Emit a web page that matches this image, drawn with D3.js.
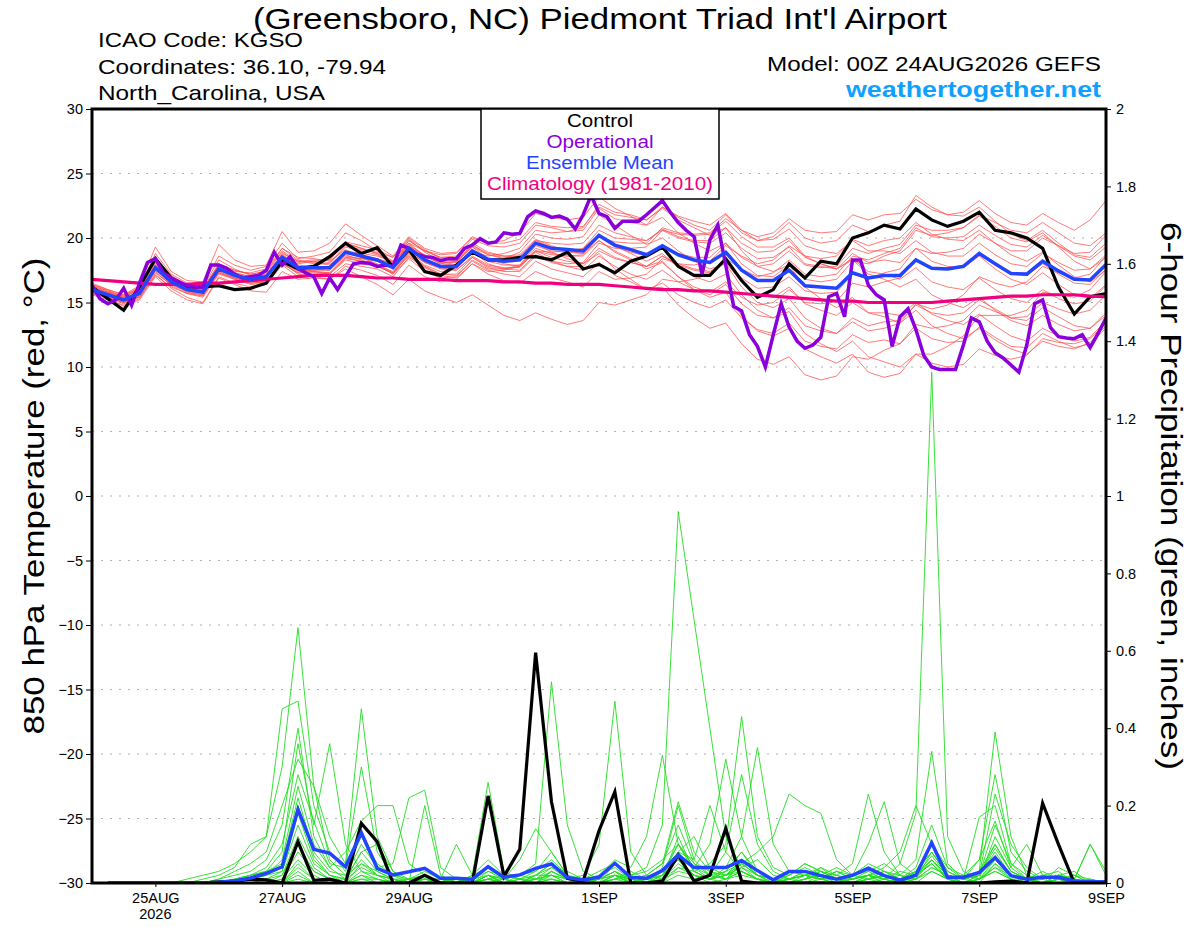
<!DOCTYPE html>
<html>
<head>
<meta charset="utf-8">
<script src="https://cdnjs.cloudflare.com/ajax/libs/d3/7.8.5/d3.min.js"></script>
<style>
body { margin: 0; background: #fff; }
text { font-family: "Liberation Sans", Arial, Helvetica, sans-serif; }
</style>
</head>
<body>
<script>
/* global d3 */
//Chart size
var width = 1200;
var height = 927;

//Forecast hours (6-hourly ensemble, 3-hourly operational)
var hours = d3.range(0, 385, 6);
var precipHours = d3.range(6, 385, 6);
var operHours = d3.range(0, 385, 3);

//X axis labels
var xTickHours = [24, 72, 120, 192, 240, 288, 336, 384];
var xTickLabels = ["25AUG", "27AUG", "29AUG", "1SEP", "3SEP", "5SEP", "7SEP", "9SEP"];
var yearLabel = "2026";

var tempTicks = [-30, -25, -20, -15, -10, -5, 0, 5, 10, 15, 20, 25, 30];
var precipTicks = [0, 0.2, 0.4, 0.6, 0.8, 1, 1.2, 1.4, 1.6, 1.8, 2];

//850 hPa temperature, control run
var controlTemp = [
    16.2,15.3,14.4,16.2,18.4,16.9,16.2,16.2,16.3,16.0,16.1,16.5,18.2,
    17.6,17.8,18.55,19.6,18.8,19.25,17.75,19.1,17.4,17.1,17.9,18.9,18.3,
    18.3,18.5,18.55,18.3,18.9,17.6,17.95,17.3,18.2,18.6,19.3,17.8,17.1,
    17.1,18.4,16.7,15.4,16.0,18.0,16.9,18.2,18.0,20.0,20.4,21.0,20.7,22.25,
    21.4,20.9,21.3,22.0,20.6,20.4,20.0,19.2,16.2,14.1,15.45,15.7
];

//ensemble mean
var meanTemp = [
    16.0,15.6,15.2,15.7,17.7,16.6,16.0,15.8,17.6,17.1,16.8,17.0,18.5,
    17.7,17.7,17.7,18.9,18.6,18.3,17.7,19.2,18.3,17.8,17.8,19.0,18.35,
    18.2,18.3,19.6,19.2,19.1,19.0,20.2,19.45,19.1,18.7,19.4,18.7,18.3,
    18.1,18.9,17.5,16.7,16.7,17.5,16.3,16.2,16.1,17.3,16.9,17.1,17.1,18.3,
    17.65,17.6,17.8,18.8,18.0,17.25,17.2,18.2,17.45,16.8,16.75,17.95
];

//climatology 1981-2010
var climTemp = [
    16.8,16.7,16.6,16.5,16.4,16.4,16.4,16.5,16.5,16.6,16.7,16.8,16.9,
    17.0,17.1,17.1,17.1,17.0,16.9,16.9,16.8,16.8,16.8,16.7,16.7,16.7,
    16.6,16.6,16.5,16.5,16.4,16.4,16.4,16.3,16.2,16.1,16.0,16.0,15.9,
    15.9,15.8,15.7,15.6,15.5,15.4,15.3,15.2,15.1,15.1,15.0,15.0,15.0,15.0,
    15.0,15.1,15.2,15.3,15.4,15.5,15.5,15.6,15.6,15.6,15.5,15.45
];

//operational run, 3-hourly
var operTemp = [
    16.3,15.3,14.9,15.2,16.1,14.8,16.5,18.1,18.4,17.3,16.9,16.6,16.3,16.2,16.2,17.9,
    17.9,17.65,17.2,16.9,17.0,17.1,17.5,18.9,17.9,18.55,17.65,17.3,17.0,15.7,16.9,16.0,
    17.0,18.0,18.1,18.05,17.8,17.9,17.8,19.45,19.2,18.75,18.55,18.5,18.25,18.4,18.4,19.2,
    19.45,19.95,19.6,19.7,20.4,20.3,20.35,21.65,22.1,21.9,21.6,21.7,21.45,20.7,21.8,23.3,
    21.9,21.65,20.75,21.3,21.3,21.3,21.8,22.35,22.9,22.0,21.2,20.6,20.1,17.2,19.85,21.0,
    17.9,14.7,14.35,12.5,11.6,10.0,12.5,14.9,13.1,12.0,11.45,11.7,12.3,15.45,15.7,13.9,
    18.3,18.3,16.35,15.6,15.2,11.6,13.9,14.5,12.9,10.9,10.0,9.8,9.8,9.8,11.7,13.8,
    13.5,12.0,11.1,10.7,10.15,9.6,11.7,14.9,15.2,13.05,12.35,12.25,12.2,12.5,11.5,12.6,
    13.8
];

//ensemble members
var memberTemps = [
    [16.2,15.8,15.5,16.0,18.2,17.0,16.4,16.1,18.0,17.5,17.2,17.4,19.2,
     18.3,18.0,18.4,19.6,19.2,18.8,18.1,19.8,19.0,18.5,18.6,19.9,19.4,
     19.3,19.6,21.0,20.8,20.5,20.6,22.3,21.5,21.2,21.0,22.4,21.6,21.0,
     20.6,21.8,20.4,19.8,20.1,21.2,20.0,19.6,19.8,21.0,20.5,21.0,21.3,23.3,
     22.4,21.8,22.0,22.9,21.9,21.2,21.0,21.9,21.2,20.6,21.4,22.9],
    [15.8,15.4,14.9,15.5,17.4,16.3,15.7,15.4,17.2,16.8,16.5,16.6,18.0,
     17.3,17.4,17.3,18.5,18.2,17.8,17.3,18.6,17.8,17.2,17.1,18.2,17.5,
     17.2,17.0,18.2,17.6,17.3,17.0,18.1,17.1,16.6,16.0,16.5,15.6,15.0,
     14.6,15.2,13.8,12.9,12.6,13.4,12.0,11.6,11.4,12.5,11.9,12.1,11.8,13.0,
     12.2,11.9,12.0,13.1,12.3,11.6,11.5,12.6,12.0,11.5,11.8,13.0],
    [16.4,15.9,15.4,16.1,18.8,17.2,16.5,16.4,18.6,17.9,17.5,17.8,19.6,
     18.4,18.6,18.9,20.4,19.8,19.0,18.2,19.6,18.6,18.0,18.2,19.5,18.7,
     18.4,18.9,20.3,20.0,19.9,20.1,21.8,21.0,20.2,19.5,20.0,19.0,18.2,
     17.6,18.0,16.2,15.0,14.6,15.3,13.8,13.0,12.6,13.5,12.8,13.0,13.4,14.9,
     14.5,14.8,15.6,17.0,16.5,16.2,16.6,17.8,17.3,16.9,17.2,18.6],
    [15.6,15.2,14.8,15.3,17.2,16.1,15.4,15.0,17.0,16.5,16.2,16.4,17.9,
     17.0,17.1,17.0,18.0,17.8,17.6,17.0,18.5,17.7,17.1,16.9,18.0,17.2,
     16.7,16.5,17.4,16.9,16.6,16.2,17.4,16.8,16.9,17.2,18.4,18.0,17.9,
     18.2,19.4,18.6,18.0,18.3,19.4,18.6,18.4,18.6,19.9,19.4,19.8,20.0,21.2,
     20.3,19.9,19.8,20.6,19.6,18.7,18.2,18.9,17.9,17.0,16.6,17.5],
    [16.1,15.7,15.3,15.9,18.0,16.8,16.2,15.9,17.9,17.3,17.0,17.1,18.6,
     17.9,17.8,17.6,18.7,18.3,17.9,17.2,18.8,17.9,17.4,17.6,18.9,18.6,
     18.8,19.2,20.6,20.4,20.5,20.8,22.6,22.0,21.8,21.4,22.3,21.4,20.8,
     20.2,20.8,19.0,17.8,17.4,17.9,16.2,15.3,14.6,15.4,14.2,13.9,13.4,14.4,
     13.2,12.6,12.2,13.0,12.1,11.4,11.0,12.0,11.6,11.4,11.9,13.2],
    [15.9,15.5,15.0,15.6,17.6,16.5,15.8,15.6,17.3,16.9,16.6,16.9,18.4,
     17.8,17.9,18.1,19.4,19.1,18.9,18.5,20.0,19.1,18.4,18.2,19.3,18.4,
     18.0,17.8,18.9,18.2,17.8,17.5,18.6,17.8,17.2,16.8,17.5,16.6,16.0,
     15.6,16.4,14.9,14.0,13.8,14.6,13.2,12.8,12.6,13.8,13.2,13.5,13.6,14.8,
     14.2,14.0,14.2,15.2,14.5,13.8,13.6,14.6,13.9,13.2,13.0,14.0],
    [16.5,16.0,15.6,16.3,19.3,17.4,16.7,16.6,19.5,18.3,17.8,17.9,20.5,
     18.9,19.0,19.6,21.1,20.2,19.4,18.6,20.1,19.2,18.8,18.9,20.0,19.6,
     19.8,20.4,21.9,21.6,21.4,21.6,23.2,22.3,21.7,21.0,21.6,20.4,19.6,
     19.0,19.6,18.0,17.1,17.0,17.9,16.8,16.6,16.8,18.2,18.0,18.6,19.0,20.6,
     20.2,20.4,20.8,21.8,21.2,20.6,20.4,21.2,20.4,19.6,19.4,20.4],
    [15.7,15.3,14.7,15.2,17.0,15.9,15.2,14.9,16.9,16.4,15.9,15.8,17.4,
     16.8,16.9,16.8,17.8,17.5,17.1,16.4,17.9,17.0,16.6,16.8,18.0,17.4,
     17.5,17.8,19.0,18.9,19.0,19.2,20.6,20.0,19.9,19.8,20.7,20.1,19.8,
     19.8,20.8,19.6,18.9,19.0,19.8,18.5,18.0,17.6,18.3,17.2,16.8,16.2,16.8,
     15.6,15.0,14.6,15.4,14.4,13.6,13.2,14.0,13.3,12.8,13.0,14.2],
    [16.0,15.6,15.1,15.4,17.3,16.4,15.9,15.7,17.4,16.9,16.6,16.7,18.1,
     17.2,17.0,16.8,17.6,17.0,16.4,15.6,16.8,15.9,15.4,15.0,15.6,14.8,
     14.0,13.6,14.2,13.7,13.3,13.6,15.0,14.8,15.2,15.6,16.8,16.6,16.8,
     17.2,18.4,17.6,17.0,17.3,18.3,17.2,17.0,17.2,18.6,18.3,18.8,19.2,20.8,
     20.1,20.0,20.1,21.0,20.2,19.5,19.3,20.2,19.4,18.6,18.3,19.3],
    [16.3,15.9,15.5,16.2,18.5,17.1,16.3,16.2,18.3,17.6,17.1,17.3,18.9,
     18.1,18.2,18.0,19.3,19.0,18.7,18.0,19.5,18.6,18.0,17.9,19.1,18.2,
     17.9,17.9,19.0,18.5,18.2,18.0,19.2,18.5,18.1,17.8,18.6,17.9,17.5,
     17.3,18.1,16.6,15.6,15.4,16.2,14.9,14.4,14.0,15.0,14.2,14.2,14.0,15.0,
     14.1,13.6,13.3,14.1,13.2,12.4,12.0,13.0,12.4,12.0,12.3,13.6],
    [15.8,15.5,15.2,15.8,17.9,16.7,16.1,15.9,17.7,17.2,16.9,17.2,18.7,
     17.6,17.4,17.2,18.3,18.0,17.8,17.3,18.9,18.1,17.7,17.7,18.9,18.2,
     18.2,18.4,19.8,19.6,19.5,19.6,21.0,20.4,20.1,19.8,20.6,20.0,19.7,
     19.6,20.4,19.2,18.4,18.5,19.3,18.0,17.8,17.6,18.8,18.1,18.3,18.1,19.2,
     18.2,17.8,17.7,18.6,17.6,16.8,16.4,17.3,16.4,15.6,15.3,16.4],
    [16.2,15.7,15.3,15.8,17.8,16.8,16.3,16.1,17.9,17.4,17.3,17.6,19.2,
     18.5,18.4,18.2,19.1,18.5,17.9,17.2,18.4,17.4,16.9,17.0,18.3,17.6,
     17.6,17.9,19.4,19.0,18.9,18.8,20.2,19.4,18.8,18.2,18.8,17.7,17.0,
     16.6,17.2,15.6,14.4,13.8,14.3,12.6,11.8,11.2,12.0,10.8,10.4,10.0,11.0,
     10.3,10.0,10.2,11.4,10.9,10.6,10.9,12.2,11.9,11.8,12.2,13.4],
    [15.9,15.6,15.3,15.9,17.6,16.5,15.9,15.6,17.5,17.0,16.6,16.7,18.2,
     17.5,17.6,17.5,18.6,18.4,18.2,17.7,19.3,18.6,18.1,18.1,19.3,18.7,
     18.5,18.6,19.8,19.3,19.1,19.0,20.1,19.3,18.9,18.6,19.4,18.8,18.5,
     18.5,19.6,18.5,17.8,18.0,19.0,17.9,17.7,17.8,19.2,18.8,19.2,19.5,21.0,
     20.6,20.6,20.8,21.7,20.9,20.0,19.7,20.4,19.3,18.2,17.6,18.5],
    [16.1,15.8,15.4,15.6,17.5,16.4,15.8,15.5,17.4,16.9,16.5,16.6,18.1,
     17.4,17.5,17.7,19.0,18.8,18.6,18.2,19.8,19.0,18.5,18.4,19.6,18.9,
     18.6,18.5,19.6,18.9,18.4,18.0,18.8,17.6,16.8,16.0,16.2,14.8,13.8,
     13.0,13.4,11.8,10.6,10.2,10.8,9.4,9.0,9.3,10.8,10.6,11.3,11.8,13.3,
     13.0,13.2,13.6,14.8,14.3,13.8,13.9,15.0,14.5,14.1,14.4,15.6],
    [15.7,15.4,15.0,15.5,17.5,16.6,16.1,16.0,17.9,17.5,17.2,17.4,19.0,
     18.2,18.1,17.9,18.9,18.5,18.0,17.3,18.7,17.8,17.2,17.2,18.5,17.8,
     17.6,17.8,19.2,18.8,18.6,18.6,19.8,19.0,18.4,17.8,18.2,17.0,16.0,
     15.4,15.8,14.0,12.8,12.4,13.0,11.4,10.8,10.3,11.0,9.6,9.2,9.5,11.0,
     11.0,11.6,12.4,14.0,14.0,14.0,14.4,15.8,15.6,15.4,16.0,17.4],
    [16.3,15.8,15.2,15.7,17.9,16.8,16.0,15.7,17.6,17.0,16.7,16.9,18.4,
     17.5,17.4,17.3,18.5,18.4,18.4,18.0,19.6,19.0,18.7,18.8,20.1,19.6,
     19.6,19.9,21.2,20.9,20.8,20.9,22.4,21.8,21.6,21.4,22.4,21.7,21.3,
     21.0,21.9,20.6,19.8,19.9,20.7,19.4,19.0,18.8,19.8,19.0,19.0,18.8,19.8,
     18.9,18.6,18.6,19.6,18.7,18.0,17.8,18.8,18.1,17.5,17.6,18.7],
    [15.9,15.5,15.1,15.8,17.8,16.7,16.1,16.0,17.8,17.3,17.0,17.1,18.7,
     18.0,18.2,18.3,19.6,19.2,18.8,18.1,19.4,18.4,17.7,17.5,18.5,17.7,
     17.4,17.4,18.6,18.1,17.8,17.8,19.0,18.4,18.1,17.8,18.6,18.0,17.6,
     17.4,18.2,16.9,16.1,16.2,17.0,15.9,15.7,15.8,17.2,16.8,17.3,17.6,19.2,
     18.8,18.9,19.2,20.3,19.6,19.0,19.0,20.0,19.4,18.8,18.9,20.2],
    [16.0,15.7,15.4,16.0,17.7,16.6,16.2,16.0,17.8,17.2,16.9,17.0,18.5,
     17.6,17.5,17.5,18.8,18.6,18.4,17.9,19.4,18.7,18.2,18.2,19.4,18.8,
     18.6,18.7,19.9,19.4,19.0,18.8,19.8,18.9,18.3,17.6,18.1,17.0,16.2,
     15.8,16.6,15.4,14.8,15.0,16.0,15.0,14.9,15.1,16.5,16.2,16.6,16.9,18.3,
     17.7,17.7,17.9,18.9,18.1,17.3,17.1,18.0,17.2,16.5,16.4,17.6],
    [16.4,16.0,15.6,16.1,18.1,16.9,16.2,15.9,17.6,17.0,16.8,17.1,18.8,
     18.2,18.3,18.3,19.7,19.4,19.1,18.5,19.9,18.9,18.2,17.9,19.0,18.0,
     17.6,17.5,18.7,18.2,18.0,18.1,19.6,19.2,19.2,19.3,20.6,20.3,20.2,
     20.3,21.3,20.1,19.3,19.3,20.0,18.6,18.0,17.6,18.4,17.4,17.2,16.8,17.7,
     16.6,16.2,16.0,16.9,16.0,15.3,15.0,16.0,15.3,14.9,15.1,16.3],
    [15.8,15.4,15.0,15.4,17.1,16.2,15.7,15.5,17.3,16.8,16.4,16.5,18.0,
     17.3,17.3,17.2,18.4,18.2,17.9,17.4,18.9,18.1,17.6,17.5,18.6,17.9,
     17.7,17.7,19.0,18.7,18.6,18.7,20.1,19.7,19.6,19.6,20.8,20.4,20.3,
     20.4,21.5,20.6,20.1,20.4,21.5,20.6,20.4,20.5,21.8,21.4,21.8,21.9,23.0,
     22.2,21.8,21.7,22.4,21.3,20.3,19.8,20.6,19.6,18.7,18.5,19.6]
];

//6-hour precipitation, control and ensemble mean
var controlPrecip = [
    0,0,0,0,0,0,0,0.003,
    0.005,0.01,0.008,0,0.107,0.007,0.01,0,
    0.154,0.107,0,0,0.02,0,0,0,
    0.225,0.017,0.087,0.595,0.21,0.012,0.005,0.135,
    0.236,0,0,0.005,0.072,0.005,0.02,0.141,
    0.005,0,0,0,0,0,0,0,
    0,0,0,0,0,0,0,0,
    0.003,0.005,0,0.206,0.1,0,0,0
];

var meanPrecip = [
    0,0,0,0,0,0,0,0.002,
    0.005,0.013,0.025,0.042,0.19,0.087,0.077,0.042,
    0.13,0.038,0.021,0.029,0.038,0.012,0.012,0.01,
    0.042,0.015,0.021,0.038,0.049,0.014,0.008,0.015,
    0.051,0.015,0.012,0.032,0.072,0.04,0.04,0.04,
    0.058,0.032,0.008,0.03,0.03,0.019,0.01,0.02,
    0.038,0.019,0.007,0.02,0.104,0.015,0.015,0.027,
    0.066,0.019,0.01,0.015,0.015,0.005,0.003,0.003
];

//ensemble member precipitation
var memberPrecips = [
    [0,0,0,0,0,0.01,0.02,0.03,0.05,0.08,0.12,0.30,0.66,0.25,0.06,0.02,
     0.05,0.03,0.01,0,0,0,0.01,0,0.03,0.01,0,0.02,0.05,0.01,0,0,
     0.02,0.01,0,0.03,0.06,0.02,0,0.01,0.03,0.01,0,0,0.02,0.04,0.01,0,
     0,0.01,0,0.02,0.05,0.01,0,0.01,0.03,0.01,0,0,0.01,0,0,0],
    [0,0,0,0,0,0,0.01,0.02,0.04,0.1,0.12,0.45,0.47,0.2,0.08,0.03,
     0.12,0.05,0.02,0.01,0,0.01,0,0,0.01,0,0.02,0.03,0.08,0.02,0,0.01,
     0.03,0,0.01,0.02,0.1,0.04,0.01,0,0.06,0.03,0.01,0,0,0.01,0.03,0.01,
     0.02,0,0,0.01,0.08,0.02,0,0.01,0.12,0.04,0.01,0,0.02,0.01,0,0],
    [0,0,0,0,0,0,0,0.01,0.02,0.03,0.06,0.15,0.40,0.12,0.04,0.01,
     0.08,0.1,0.03,0,0.01,0,0,0.02,0.06,0.02,0.01,0,0.03,0.01,0,0,
     0.01,0.03,0.01,0,0.04,0.02,0.01,0.03,0.08,0.02,0,0.01,0.03,0.01,0.02,0.05,
     0.23,0.08,0.02,0.01,0.06,0.02,0.01,0.02,0.15,0.05,0.01,0.02,0.03,0,0,0],
    [0,0,0,0,0,0,0,0,0.01,0.02,0.03,0.08,0.36,0.15,0.36,0.1,
     0.03,0.02,0.01,0,0,0,0.01,0,0,0.01,0.02,0.01,0.04,0.03,0.01,0,
     0.02,0.01,0,0.04,0.2,0.06,0.02,0.01,0.05,0.02,0.01,0,0.01,0.03,0.02,0,
     0.01,0.03,0.02,0,0.03,0.01,0,0.02,0.09,0.03,0.01,0,0.04,0.02,0,0],
    [0,0,0,0,0,0,0,0.01,0.03,0.05,0.08,0.2,0.32,0.25,0.12,0.05,
     0.45,0.12,0.03,0.01,0.02,0,0,0,0.02,0,0.01,0.03,0.06,0.02,0.01,0,
     0.05,0.02,0,0.01,0.12,0.03,0.01,0.02,0.04,0.06,0.02,0.01,0,0.02,0.04,0.02,
     0.01,0,0.01,0.03,0.1,0.04,0.01,0,0.05,0.02,0,0.01,0.02,0,0.01,0],
    [0,0,0,0,0,0,0,0,0.01,0.02,0.04,0.1,0.28,0.16,0.05,0.04,
     0.30,0.08,0.02,0,0.01,0.01,0,0.01,0.04,0.01,0,0.02,0.05,0.01,0.01,0.02,
     0.04,0.01,0.02,0.05,0.15,0.05,0.03,0.01,0.02,0.01,0,0.02,0.05,0.03,0.01,0.02,
     0.1,0.21,0.05,0.02,0.07,0.02,0,0.01,0.06,0.02,0.01,0,0.01,0.02,0,0],
    [0,0,0,0,0,0,0,0,0,0.01,0.02,0.06,0.25,0.1,0.04,0.08,
     0.16,0.2,0.2,0.05,0.02,0,0.01,0,0.01,0.02,0.01,0,0.03,0.01,0,0.01,
     0.02,0,0.01,0.02,0.08,0.12,0.04,0.02,0.03,0.01,0,0.01,0.02,0.01,0.03,0.01,
     0.02,0.04,0.08,0.2,0.1,0.03,0.01,0.02,0.1,0.03,0.01,0,0.01,0,0.01,0],
    [0,0,0,0,0,0,0,0,0.01,0.02,0.03,0.05,0.22,0.08,0.03,0.02,
     0.1,0.04,0.05,0.22,0.24,0.04,0.01,0,0.02,0.01,0,0.01,0.02,0,0.01,0,
     0.01,0.02,0.03,0.06,0.1,0.04,0.02,0.01,0.03,0.01,0.01,0,0.01,0.04,0.02,0.01,
     0.02,0.01,0.05,0.18,1.32,0.12,0.03,0.01,0.04,0.01,0,0,0.01,0.01,0,0],
    [0,0,0,0,0,0,0,0,0,0.01,0.02,0.04,0.2,0.07,0.02,0.01,
     0.08,0.03,0.01,0,0.2,0.02,0,0.02,0.26,0.03,0.01,0,0.02,0.01,0,0,
     0.02,0.01,0,0.02,0.08,0.03,0.01,0.02,0.05,0.02,0.01,0.01,0.03,0.02,0,0.01,
     0.03,0.01,0.02,0.06,0.34,0.05,0.01,0.02,0.07,0.02,0.01,0,0.02,0.01,0,0],
    [0,0,0,0,0,0,0,0,0,0,0.01,0.03,0.18,0.06,0.02,0.01,
     0.06,0.02,0.01,0.01,0.03,0.01,0.1,0.02,0.04,0.01,0.06,0.14,0.08,0.02,0,0.01,
     0.03,0.01,0.01,0.03,0.1,0.03,0.01,0.02,0.06,0.02,0,0.01,0.02,0.01,0.01,0,
     0.02,0.03,0.01,0.04,0.15,0.04,0.02,0.01,0.05,0.01,0.01,0.03,0.01,0,0,0],
    [0,0,0,0,0,0,0,0,0,0.01,0.02,0.03,0.15,0.05,0.02,0,
     0.05,0.02,0.01,0,0.01,0,0.01,0,0.02,0.01,0.02,0.05,0.52,0.15,0.03,0.01,
     0.02,0,0.01,0.02,0.06,0.02,0.01,0.03,0.08,0.03,0.01,0,0.01,0.02,0.01,0.01,
     0.02,0.01,0,0.02,0.06,0.02,0.01,0.03,0.39,0.12,0.02,0.01,0.02,0,0,0],
    [0,0,0,0,0,0,0,0,0,0,0.01,0.02,0.12,0.04,0.01,0.01,
     0.04,0.02,0,0.01,0.02,0,0,0.01,0.03,0.02,0.01,0.02,0.04,0.01,0.02,0.1,
     0.47,0.08,0.02,0.01,0.05,0.02,0.01,0.02,0.04,0.01,0,0.01,0.02,0.03,0.01,0,
     0.01,0.02,0.01,0.03,0.08,0.02,0.01,0.06,0.28,0.08,0.03,0.01,0.02,0.01,0,0],
    [0,0,0,0,0,0,0,0,0,0,0,0.02,0.1,0.03,0.01,0,
     0.03,0.01,0,0,0.01,0.01,0,0,0.02,0,0.01,0.01,0.03,0.01,0,0.02,
     0.06,0.04,0.12,0.33,0.1,0.05,0.02,0.08,0.28,0.1,0.03,0.01,0.02,0.01,0,0.01,
     0.02,0.01,0.03,0.02,0.05,0.01,0,0.01,0.04,0.02,0.01,0,0.01,0,0,0],
    [0,0,0,0,0,0,0,0,0,0,0,0.01,0.08,0.03,0.01,0,
     0.02,0.01,0,0,0,0.01,0,0,0.01,0.01,0,0.02,0.02,0,0.01,0.03,
     0.05,0.02,0.04,0.15,0.96,0.68,0.4,0.12,0.04,0.02,0.01,0.02,0.04,0.02,0.01,0,
     0.01,0.02,0.01,0.02,0.1,0.03,0.01,0.02,0.06,0.02,0,0,0.01,0,0,0],
    [0,0,0,0,0,0,0,0,0,0,0,0.01,0.06,0.02,0,0,
     0.02,0,0,0.01,0.01,0,0,0.01,0.02,0,0,0.01,0.02,0.01,0,0.01,
     0.03,0.01,0.02,0.05,0.21,0.08,0.03,0.02,0.05,0.02,0.01,0,0.01,0.02,0.01,0.01,
     0.02,0,0.01,0.03,0.08,0.02,0.01,0.02,0.23,0.1,0.04,0.01,0.02,0.01,0,0],
    [0,0,0,0,0,0,0,0,0,0,0,0,0.05,0.01,0,0,
     0.01,0,0.01,0,0,0.01,0,0,0.01,0,0,0,0.01,0,0,0,
     0.02,0,0.01,0.03,0.08,0.06,0.2,0.08,0.03,0.01,0,0.01,0.02,0.01,0,0,
     0.01,0.02,0.01,0.02,0.06,0.01,0.02,0.06,0.16,0.04,0.1,0.02,0.01,0.01,0.1,0.02],
    [0,0,0,0,0,0,0,0,0,0,0,0,0.04,0.01,0,0,
     0.01,0.01,0,0,0,0,0,0,0.01,0,0,0.01,0.01,0,0,0,
     0.01,0.01,0,0.02,0.06,0.04,0.1,0.32,0.12,0.03,0.01,0,0.01,0.02,0.01,0,
     0.02,0.01,0,0.01,0.04,0.02,0.01,0.17,0.2,0.05,0.02,0.01,0.02,0.03,0,0],
    [0,0,0,0,0,0,0,0,0,0,0,0,0.03,0,0,0,
     0,0,0,0,0,0,0,0,0,0,0,0,0.01,0,0,0,
     0.01,0,0,0.01,0.04,0.03,0.05,0.1,0.43,0.12,0.04,0.02,0.05,0.03,0.01,0.02,
     0.04,0.02,0.01,0.02,0.05,0.01,0.01,0.03,0.1,0.03,0.01,0,0.01,0.02,0.01,0],
    [0,0,0,0,0,0,0,0,0,0,0,0,0.02,0,0,0,
     0,0,0,0,0,0,0,0,0,0,0,0,0,0,0,0,
     0,0,0,0.01,0.03,0.02,0.01,0.04,0.12,0.35,0.1,0.03,0.02,0.01,0.03,0.02,
     0.05,0.03,0.01,0.01,0.04,0.02,0,0.02,0.08,0.02,0.01,0,0,0.01,0,0],
    [0,0,0,0,0,0,0,0,0,0,0,0,0.01,0,0,0,
     0,0,0,0,0,0,0,0,0,0,0,0,0,0,0,0,
     0,0,0,0,0.02,0.01,0.02,0.03,0.05,0.08,0.12,0.23,0.2,0.18,0.06,0.02,
     0.03,0.05,0.02,0.01,0.03,0.01,0,0.01,0.03,0.01,0,0,0.02,0.01,0.1,0.03]
];

//Plot area
var plot = { left: 92, right: 1106, top: 109, bottom: 883 };

var x = d3.scaleLinear().domain([0, 384]).range([plot.left, plot.right]);
var yTemp = d3.scaleLinear().domain([-30, 30]).range([plot.bottom, plot.top]);
var yPrecip = d3.scaleLinear().domain([0, 2]).range([plot.bottom, plot.top]);

//Create SVG element
var svg = d3.select("body")
            .append("svg")
            .attr("width", width)
            .attr("height", height)
            .style("display", "block");

svg.append("defs").append("clipPath")
    .attr("id", "plotclip")
  .append("rect")
    .attr("x", plot.left)
    .attr("y", plot.top)
    .attr("width", plot.right - plot.left)
    .attr("height", plot.bottom - plot.top);

//Dotted grid lines at temperature ticks
svg.append("g")
    .selectAll("line")
    .data(tempTicks.slice(1, -1))
    .enter().append("line")
    .attr("x1", plot.left)
    .attr("x2", plot.right)
    .attr("y1", function(d) { return yTemp(d); })
    .attr("y2", function(d) { return yTemp(d); })
    .attr("stroke", "#b0b0b0")
    .attr("stroke-width", 1.2)
    .attr("stroke-dasharray", "2,7");

var lines = svg.append("g").attr("clip-path", "url(#plotclip)");

function tempLine(hrs) {
    return d3.line()
        .x(function(d, i) { return x(hrs[i]); })
        .y(function(d) { return yTemp(d); });
}
var precipLine = d3.line()
    .x(function(d, i) { return x(precipHours[i]); })
    .y(function(d) { return yPrecip(d); });

//members
lines.selectAll("path.member")
    .data(memberTemps)
    .enter().append("path")
    .attr("class", "member")
    .attr("d", tempLine(hours))
    .attr("fill", "none")
    .attr("stroke", "#ff5050")
    .attr("stroke-opacity", 0.85)
    .attr("stroke-width", 0.9);

lines.selectAll("path.pmember")
    .data(memberPrecips)
    .enter().append("path")
    .attr("class", "pmember")
    .attr("d", precipLine)
    .attr("fill", "none")
    .attr("stroke", "#22dd22")
    .attr("stroke-width", 0.9);

//control
lines.append("path")
    .attr("d", precipLine(controlPrecip))
    .attr("fill", "none")
    .attr("stroke", "#000")
    .attr("stroke-width", 3.2);

lines.append("path")
    .attr("d", tempLine(hours)(controlTemp))
    .attr("fill", "none")
    .attr("stroke", "#000")
    .attr("stroke-width", 3.2);

//climatology
lines.append("path")
    .attr("d", tempLine(hours)(climTemp))
    .attr("fill", "none")
    .attr("stroke", "#f0007f")
    .attr("stroke-width", 3.2);

//operational
lines.append("path")
    .attr("d", tempLine(operHours)(operTemp))
    .attr("fill", "none")
    .attr("stroke", "#8a00dc")
    .attr("stroke-width", 3.5);

//ensemble mean
lines.append("path")
    .attr("d", precipLine(meanPrecip))
    .attr("fill", "none")
    .attr("stroke", "#2244ff")
    .attr("stroke-width", 3.5);

lines.append("path")
    .attr("d", tempLine(hours)(meanTemp))
    .attr("fill", "none")
    .attr("stroke", "#2244ff")
    .attr("stroke-width", 3.5);

//Axes
var leftAxis = svg.append("g")
    .attr("transform", "translate(" + plot.left + ",0)")
    .call(d3.axisLeft(yTemp).tickValues(tempTicks).tickSize(6).tickPadding(3));

var rightAxis = svg.append("g")
    .attr("transform", "translate(" + plot.right + ",0)")
    .call(d3.axisRight(yPrecip).tickValues(precipTicks).tickSize(5).tickPadding(5)
        .tickFormat(function(d) { return String(+d.toFixed(1)); }));

var bottomAxis = svg.append("g")
    .attr("transform", "translate(0," + plot.bottom + ")")
    .call(d3.axisBottom(x).tickValues(xTickHours).tickSize(4).tickPadding(6)
        .tickFormat(function(d, i) { return xTickLabels[i]; }));

[leftAxis, rightAxis, bottomAxis].forEach(function(g) {
    g.select(".domain").remove();
    g.selectAll("text")
        .attr("font-size", 14.5)
        .attr("fill", "#000")
        .style("font-family", "'Liberation Sans', Arial, sans-serif");
    g.selectAll("line").attr("stroke", "#000");
});

bottomAxis.append("text")
    .attr("x", x(xTickHours[0]))
    .attr("y", 36)
    .attr("text-anchor", "middle")
    .attr("font-size", 14.5)
    .attr("fill", "#000")
    .text(yearLabel);

//Frame
svg.append("rect")
    .attr("x", plot.left)
    .attr("y", plot.top)
    .attr("width", plot.right - plot.left)
    .attr("height", plot.bottom - plot.top)
    .attr("fill", "none")
    .attr("stroke", "#000")
    .attr("stroke-width", 3);

//Legend
var legend = svg.append("g");
legend.append("rect")
    .attr("x", 481)
    .attr("y", 109)
    .attr("width", 238)
    .attr("height", 90)
    .attr("fill", "#fff")
    .attr("stroke", "#000")
    .attr("stroke-width", 1.5);

var legendItems = [
    { label: "Control", color: "#000", y: 127, w: 66 },
    { label: "Operational", color: "#8a00dc", y: 148, w: 107 },
    { label: "Ensemble Mean", color: "#2244ff", y: 169, w: 148 },
    { label: "Climatology (1981-2010)", color: "#f0007f", y: 190, w: 226 }
];
legend.selectAll("text")
    .data(legendItems)
    .enter().append("text")
    .attr("x", 600)
    .attr("y", function(d) { return d.y; })
    .attr("text-anchor", "middle")
    .attr("font-size", 17.5)
    .attr("textLength", function(d) { return d.w; })
    .attr("lengthAdjust", "spacingAndGlyphs")
    .attr("fill", function(d) { return d.color; })
    .text(function(d) { return d.label; });

//Titles
svg.append("text")
    .attr("x", 600)
    .attr("y", 29)
    .attr("text-anchor", "middle")
    .attr("font-size", 29)
    .attr("textLength", 694)
    .attr("lengthAdjust", "spacingAndGlyphs")
    .text("(Greensboro, NC) Piedmont Triad Int'l Airport");

var info = [
    { text: "ICAO Code: KGSO", w: 205 },
    { text: "Coordinates: 36.10, -79.94", w: 288 },
    { text: "North_Carolina, USA", w: 227 }
];
svg.selectAll("text.info")
    .data(info)
    .enter().append("text")
    .attr("class", "info")
    .attr("x", 98)
    .attr("y", function(d, i) { return 47 + i * 26.5; })
    .attr("font-size", 21)
    .attr("textLength", function(d) { return d.w; })
    .attr("lengthAdjust", "spacingAndGlyphs")
    .text(function(d) { return d.text; });

svg.append("text")
    .attr("x", 767)
    .attr("y", 71)
    .attr("font-size", 21)
    .attr("textLength", 334)
    .attr("lengthAdjust", "spacingAndGlyphs")
    .text("Model: 00Z 24AUG2026 GEFS");

svg.append("text")
    .attr("x", 846)
    .attr("y", 97)
    .attr("font-size", 22)
    .attr("font-weight", "bold")
    .attr("textLength", 255)
    .attr("lengthAdjust", "spacingAndGlyphs")
    .attr("fill", "#10a0ff")
    .text("weathertogether.net");

svg.append("text")
    .attr("transform", "translate(44,496) rotate(-90)")
    .attr("text-anchor", "middle")
    .attr("font-size", 29)
    .attr("textLength", 477)
    .attr("lengthAdjust", "spacingAndGlyphs")
    .text("850 hPa Temperature (red, \u00B0C)");

svg.append("text")
    .attr("transform", "translate(1161,496) rotate(90)")
    .attr("text-anchor", "middle")
    .attr("font-size", 29)
    .attr("textLength", 548)
    .attr("lengthAdjust", "spacingAndGlyphs")
    .text("6-hour Precipitation (green, inches)");
</script>
</body>
</html>
